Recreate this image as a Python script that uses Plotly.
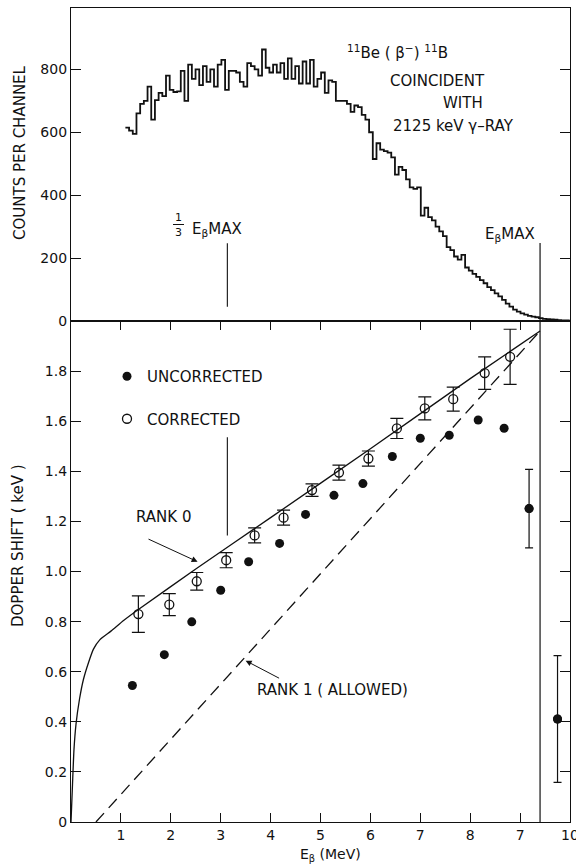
import plotly.graph_objects as go

# ---------------- data ----------------
# Top panel: beta spectrum coincident with the 2125 keV gamma ray
CH_START = 1.09   # MeV, lower edge of first channel
CH_WIDTH = 0.074  # MeV per channel
counts = [615, 605, 595, 660, 690, 700, 745, 640, 702, 725, 715, 780, 735, 728, 730,
          795, 700, 815, 770, 800, 750, 810, 760, 800, 745, 815, 830, 735, 795, 795,
          790, 760, 745, 820, 810, 800, 780, 863, 805, 790, 815, 790, 820, 770, 835,
          770, 810, 755, 825, 755, 830, 745, 770, 790, 725, 765, 760, 700, 700, 700,
          690, 665, 685, 680, 655, 640, 600, 515, 565, 545, 540, 535, 520, 465, 490,
          480, 450, 425, 420, 425, 335, 360, 330, 320, 300, 285, 270, 235, 225, 205,
          195, 210, 170, 160, 150, 140, 130, 120, 108, 98, 88, 78, 67, 55, 46,
          36, 30, 24, 20, 16, 14, 12, 9, 7, 6, 5, 4, 3, 2, 2, 1, 0]

E_BETA_MAX = 9.4  # MeV

# Bottom panel: Doppler shift vs beta energy
corr_E = [1.35, 1.97, 2.52, 3.11, 3.68, 4.26, 4.83, 5.37, 5.96, 6.53, 7.09, 7.66, 8.29, 8.80]
corr_shift = [0.83, 0.868, 0.961, 1.045, 1.144, 1.215, 1.325, 1.395, 1.451, 1.571, 1.651, 1.688, 1.792, 1.857]
corr_err = [0.073, 0.044, 0.035, 0.03, 0.03, 0.03, 0.025, 0.03, 0.03, 0.04, 0.046, 0.048, 0.065, 0.11]

unc_E = [1.23, 1.87, 2.42, 3.00, 3.56, 4.18, 4.70, 5.27, 5.85, 6.44, 7.00, 7.58, 8.16, 8.68, 9.18, 9.75]
unc_shift = [0.545, 0.668, 0.799, 0.925, 1.039, 1.112, 1.228, 1.304, 1.351, 1.459, 1.532, 1.544, 1.605, 1.572, 1.251, 0.411]
unc_err = [None] * 14 + [0.157, 0.253]

rank0_E = [0.0, 0.03, 0.06, 0.10, 0.17, 0.25, 0.35, 0.45, 0.58, 0.80, 1.06, 1.35, 2.5, 4.0, 6.0, 8.0, 9.4]
rank0_shift = [0.0, 0.15, 0.29, 0.39, 0.49, 0.57, 0.636, 0.69, 0.728, 0.762, 0.805, 0.848, 1.01, 1.215, 1.49, 1.77, 1.96]

rank1_E = [0.5, 9.4]
rank1_shift = [0.0, 1.96]

x_tickvals = [1, 2, 3, 4, 5, 6, 7, 8, 9, 10]
x_ticktext = ["1", "2", "3", "4", "5", "6", "7", "8", "7", "10"]
top_tickvals = [0, 200, 400, 600, 800]
bot_tickvals = [0, 0.2, 0.4, 0.6, 0.8, 1.0, 1.2, 1.4, 1.6, 1.8]
bot_ticktext = ["0", "0.2", "0.4", "0.6", "0.8", "1.0", "1.2", "1.4", "1.6", "1.8"]

# ---------------- layout helpers ----------------
W, H = 576, 867
ML, MR, MT, MB = 71, 6, 8, 45
PW, PH = W - ML - MR, H - MT - MB
SPLIT = (822 - 321) / PH  # bottom panel fraction


def px_x(p):
    return (p - ML) / PW


def px_y(p):
    return (H - MB - p) / PH


FONT = "DejaVu Sans"
BLACK = "#111111"

fig = go.Figure()

# histogram (step)
edges = [CH_START + CH_WIDTH * i for i in range(len(counts) + 1)]
fig.add_trace(go.Scatter(
    x=edges, y=counts + [counts[-1]], mode="lines", line=dict(color=BLACK, width=1.8, shape="hv"),
    xaxis="x2", yaxis="y2", showlegend=False, hoverinfo="skip"))

# theory curves
fig.add_trace(go.Scatter(x=rank0_E, y=rank0_shift, mode="lines", line=dict(color=BLACK, width=1.3, shape="spline", smoothing=0.6),
                         showlegend=False, hoverinfo="skip"))
fig.add_trace(go.Scatter(x=rank1_E, y=rank1_shift, mode="lines", line=dict(color=BLACK, width=1.3, dash="12px,7px"),
                         showlegend=False, hoverinfo="skip"))

# uncorrected points
fig.add_trace(go.Scatter(x=unc_E, y=unc_shift, mode="markers", name="UNCORRECTED",
                         marker=dict(symbol="circle", size=9, color=BLACK), legendgroup="u"))
ue = [(e, s, d) for e, s, d in zip(unc_E, unc_shift, unc_err) if d is not None]
fig.add_trace(go.Scatter(x=[a[0] for a in ue], y=[a[1] for a in ue], mode="markers",
                         marker=dict(symbol="circle", size=9, color=BLACK),
                         error_y=dict(type="data", array=[a[2] for a in ue], color=BLACK, thickness=1.2, width=4),
                         showlegend=False, legendgroup="u"))

# corrected points
fig.add_trace(go.Scatter(x=corr_E, y=corr_shift, mode="markers", name="CORRECTED",
                         marker=dict(symbol="circle-open", size=9, color=BLACK, line=dict(width=1.3)),
                         error_y=dict(type="data", array=corr_err, color=BLACK, thickness=1.2, width=6.5),
                         legendgroup="c"))

axis_common = dict(showgrid=False, zeroline=False, showline=True, linecolor=BLACK, linewidth=1.3,
                   ticks="inside", tickcolor=BLACK, tickwidth=1.2, automargin=False,
                   tickfont=dict(family=FONT, size=14, color=BLACK))

fig.update_layout(
    width=W, height=H, margin=dict(l=ML, r=MR, t=MT, b=MB, autoexpand=False),
    paper_bgcolor="white", plot_bgcolor="white",
    font=dict(family=FONT, color=BLACK),
    xaxis=dict(domain=[0, 1], range=[0, 10], tickvals=x_tickvals, ticktext=x_ticktext,
               ticklen=9, mirror="ticks", anchor="y", ticklabeloverflow="allow", **axis_common),
    yaxis=dict(domain=[0, SPLIT], range=[0, 2.0], tickvals=bot_tickvals, ticktext=bot_ticktext,
               ticklen=10, mirror="ticks", anchor="x", **axis_common),
    xaxis2=dict(domain=[0, 1], range=[0, 10], anchor="y2", showticklabels=False, matches="x",
                showgrid=False, zeroline=False, showline=True, linecolor=BLACK, linewidth=1.3,
                ticks="", mirror=True),
    yaxis2=dict(domain=[SPLIT, 1], range=[0, 995], tickvals=top_tickvals,
                ticklen=10, mirror="ticks", anchor="x2", **axis_common),
    legend=dict(x=px_x(107), y=px_y(360), xanchor="left", yanchor="top",
                font=dict(family=FONT, size=15, color=BLACK), bgcolor="rgba(0,0,0,0)",
                tracegroupgap=20, itemclick=False),
    showlegend=True,
)

# vertical marker lines (E_beta_max and 1/3 of it)
shapes = [
    dict(type="line", xref="x2", yref="y2", x0=E_BETA_MAX, x1=E_BETA_MAX, y0=0, y1=248,
         line=dict(color=BLACK, width=1.2)),
    dict(type="line", xref="x", yref="y", x0=E_BETA_MAX, x1=E_BETA_MAX, y0=0, y1=2.0,
         line=dict(color=BLACK, width=1.2)),
    dict(type="line", xref="x2", yref="y2", x0=E_BETA_MAX / 3, x1=E_BETA_MAX / 3, y0=45, y1=247,
         line=dict(color=BLACK, width=1.1)),
    dict(type="line", xref="x", yref="y", x0=E_BETA_MAX / 3, x1=E_BETA_MAX / 3, y0=1.144, y1=1.536,
         line=dict(color=BLACK, width=1.1)),
    # fraction bar of "1/3"
    dict(type="line", xref="paper", yref="paper", x0=px_x(173), x1=px_x(184), y0=px_y(224.5), y1=px_y(224.5),
         line=dict(color=BLACK, width=1.0)),
]
fig.update_layout(shapes=shapes)


def txt(text, x, y, size=15, xanchor="center", yanchor="middle", angle=0):
    fig.add_annotation(text=text, x=px_x(x), y=px_y(y), xref="paper", yref="paper",
                       showarrow=False, xanchor=xanchor, yanchor=yanchor, textangle=angle,
                       font=dict(family=FONT, size=size, color=BLACK))


# top panel texts
txt("<sup>11</sup>Be ( β<sup>−</sup>) <sup>11</sup>B", 397, 52)
txt("COINCIDENT", 437, 81)
txt("WITH", 463, 103)
txt("2125 keV γ–RAY", 453, 126)
txt("1", 178.5, 217, size=11)
txt("3", 178.5, 232.5, size=11)
txt("E<sub>β</sub>MAX", 190, 230, xanchor="left")
txt("E<sub>β</sub>MAX", 483, 235, xanchor="left")

# bottom panel texts
txt("RANK 0", 163, 517)
txt("RANK 1 ( ALLOWED)", 332, 690)

# arrows
fig.add_annotation(x=2.537, y=1.039, ax=1.523, ay=1.132, xref="x", yref="y", axref="x", ayref="y",
                   showarrow=True, arrowhead=2, arrowsize=1.2, arrowwidth=1.0, arrowcolor=BLACK, text="")
fig.add_annotation(x=3.50, y=0.644, ax=4.20, ay=0.571, xref="x", yref="y", axref="x", ayref="y",
                   showarrow=True, arrowhead=2, arrowsize=1.2, arrowwidth=1.0, arrowcolor=BLACK, text="")

# axis titles
txt("COUNTS PER CHANNEL", 20, 153, size=15, angle=-90)
txt("DOPPER SHIFT ( keV )", 18, 546, size=15, angle=-90)
txt("E<sub>β</sub> (MeV)", 330, 855, size=14)

fig.write_html("out.html")
